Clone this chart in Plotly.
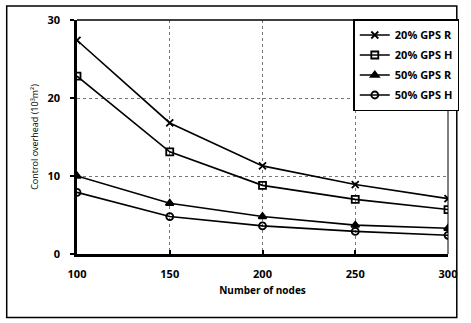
import plotly.graph_objects as go

nodes = [100, 150, 200, 250, 300]
r20 = [27.4, 16.8, 11.3, 8.9, 7.1]
h20 = [22.8, 13.1, 8.8, 7.0, 5.7]
r50 = [10.0, 6.5, 4.8, 3.7, 3.3]
h50 = [7.9, 4.8, 3.6, 2.9, 2.4]
names = ["20% GPS R", "20% GPS H", "50% GPS R", "50% GPS H"]
symbols = ["x-thin-open", "square-open", "triangle-up", "circle-open"]
xticks = [100, 150, 200, 250, 300]
yticks = [0, 10, 20, 30]

fig = go.Figure()
for i, (name, ys, sym) in enumerate(zip(names, [r20, h20, r50, h50], symbols)):
    fig.add_trace(go.Scatter(
        x=nodes, y=ys, name=name, mode="lines+markers", legendgroup=f"g{i}",
        line=dict(color="black", width=1.6),
        marker=dict(symbol=sym, size=7, color="black", line=dict(color="black", width=1.8)),
    ))

W, H = 471, 323
L, R, T, B = 77, 14, 18, 69
pw, ph = W - L - R, H - T - B

def px(x):
    return (x - L) / pw

def py(y):
    return (H - B - y) / ph

fig.add_shape(type="rect", xref="paper", yref="paper",
              x0=px(5), x1=px(466), y0=py(318), y1=py(4),
              line=dict(color="black", width=1.5), layer="below")
fig.add_shape(type="line", xref="paper", yref="paper",
              x0=0, x1=1, y0=1, y1=1, line=dict(color="black", width=1.5))
fig.add_shape(type="line", xref="paper", yref="paper",
              x0=1, x1=1, y0=0, y1=1, line=dict(color="black", width=1))

bold = dict(family="Open Sans, sans-serif", size=11, color="black", weight="bold")
fig.update_layout(
    width=W, height=H,
    margin=dict(l=L, r=R, t=T, b=B),
    paper_bgcolor="white", plot_bgcolor="white",
    font=dict(family="Open Sans, sans-serif", size=10, color="black"),
    showlegend=True,
    legend=dict(x=px(360), y=py(17), xanchor="left", yanchor="top",
                bordercolor="black", borderwidth=1.5, bgcolor="white",
                font=dict(family="Open Sans, sans-serif", size=11, color="black", weight="bold"),
                itemwidth=30, tracegroupgap=1, traceorder="grouped"),
    xaxis=dict(range=[100, 300], tickvals=xticks, showgrid=True,
               gridcolor="#777", griddash="dot", gridwidth=1,
               showline=True, linecolor="black", linewidth=2.5,
               ticks="inside", ticklen=4, tickcolor="black", tickwidth=1.5,
               zeroline=False, ticklabelstandoff=8,
               tickfont=bold,
               title=dict(text="Number of nodes", standoff=8,
                          font=dict(family="Open Sans, sans-serif", size=10, color="black", weight="bold"))),
    yaxis=dict(range=[0, 30], tickvals=yticks, showgrid=True,
               gridcolor="#777", griddash="dot", gridwidth=1,
               showline=True, linecolor="black", linewidth=2.5,
               ticks="outside", ticklen=4, tickcolor="black", tickwidth=1.5,
               zeroline=False, ticklabelstandoff=8,
               tickfont=bold,
               title=dict(text="Control overhead (10³m²)", standoff=8,
                          font=dict(family="Open Sans, sans-serif", size=9, color="black"))),
)
fig.write_html("out.html")
